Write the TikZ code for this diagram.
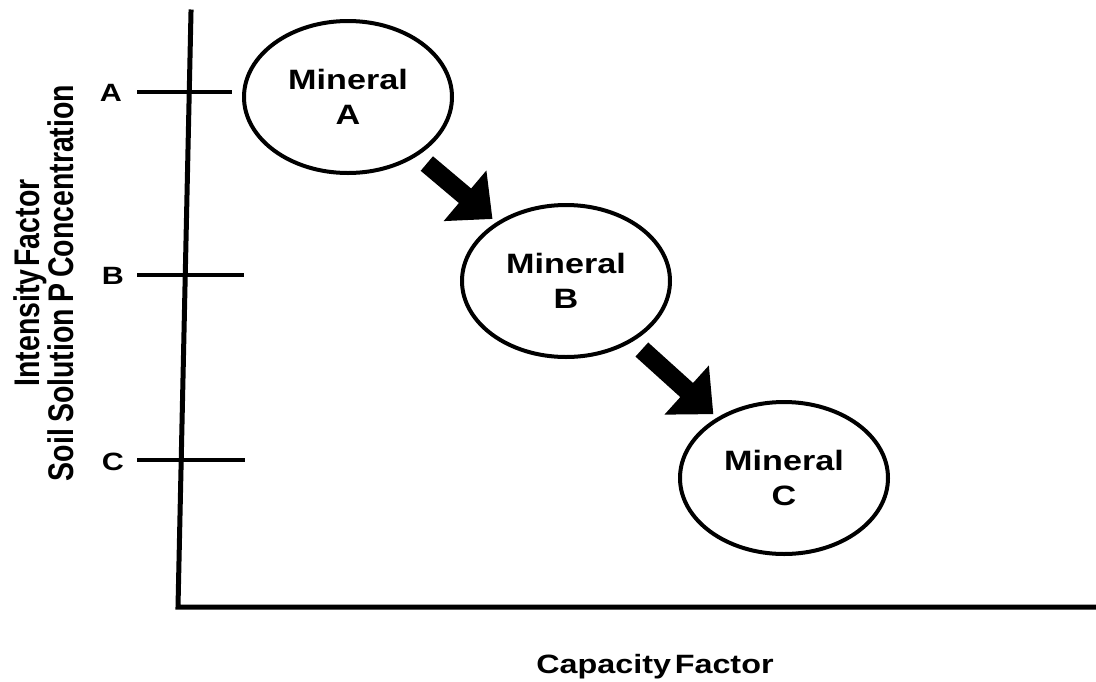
\documentclass[tikz,border=0pt]{standalone}
\usepackage{fontspec}
\setmainfont{Liberation Sans}
\usepackage{graphicx}
\usetikzlibrary{shapes.geometric,arrows.meta}
\newcommand{\sx}[1]{\scalebox{1.22}[1]{#1}}
\newcommand{\sy}[1]{\scalebox{1}[1.25]{#1}}
\newcommand{\tightsp}{\spaceskip=3pt\relax}
\newcommand{\medsp}{\spaceskip=6pt\relax}
\tikzset{
  axisline/.style={line width=5pt,line cap=rect},
  tickline/.style={line width=4pt},
  ticklabel/.style={font=\fontsize{25}{28}\selectfont\bfseries,inner sep=0pt},
  mineral/.style={ellipse,draw,line width=4pt,minimum width=208pt,minimum height=152pt,inner sep=0pt,align=center,font=\fontsize{28}{35}\selectfont\bfseries},
  flowarrow/.style={line width=19pt,-{Triangle[length=36pt,width=64pt]},shorten <=12pt,shorten >=5pt},
  axislabel/.style={font=\fontsize{28.5}{32}\selectfont\bfseries,inner sep=0pt,align=center}
}
\begin{document}
\begin{tikzpicture}[x=1pt,y=-1pt]
\useasboundingbox (0,0) rectangle (1096,681);
% axes
\coordinate (top) at (191,12);
\coordinate (origin) at (178,607);
\coordinate (xend) at (1096,607);
\draw[axisline] (top) -- (origin) -- (xend);
% ticks
\coordinate (tA1) at (137,92); \coordinate (tA2) at (232,92);
\coordinate (tB1) at (137,275); \coordinate (tB2) at (244,275);
\coordinate (tC1) at (137,460); \coordinate (tC2) at (245,460);
\draw[tickline] (tA1) -- (tA2);
\draw[tickline] (tB1) -- (tB2);
\draw[tickline] (tC1) -- (tC2);
\node[ticklabel] (lA) at (111,93) {\sx{A}};
\node[ticklabel] (lB) at (113,276) {\sx{B}};
\node[ticklabel] (lC) at (113,462) {\sx{C}};
% minerals
\node[mineral] (mA) at (348,97) {\sx{Mineral}\\\sx{A}};
\node[mineral] (mB) at (566,281) {\sx{Mineral}\\\sx{B}};
\node[mineral] (mC) at (784,478) {\sx{Mineral}\\\sx{C}};
% arrows
\draw[flowarrow] (mA) -- (mB);
\draw[flowarrow] (mB) -- (mC);
% axis labels
\node[axislabel,rotate=90] (ylab) at (44,283) {\sy{\tightsp Intensity Factor}\\\sy{\medsp Soil Solution P Concentration}};
\node[font=\fontsize{26.5}{30}\selectfont\bfseries,inner sep=0pt] (xlab) at (655,667) {\sx{\tightsp Capacity Factor}};
\end{tikzpicture}
\end{document}
